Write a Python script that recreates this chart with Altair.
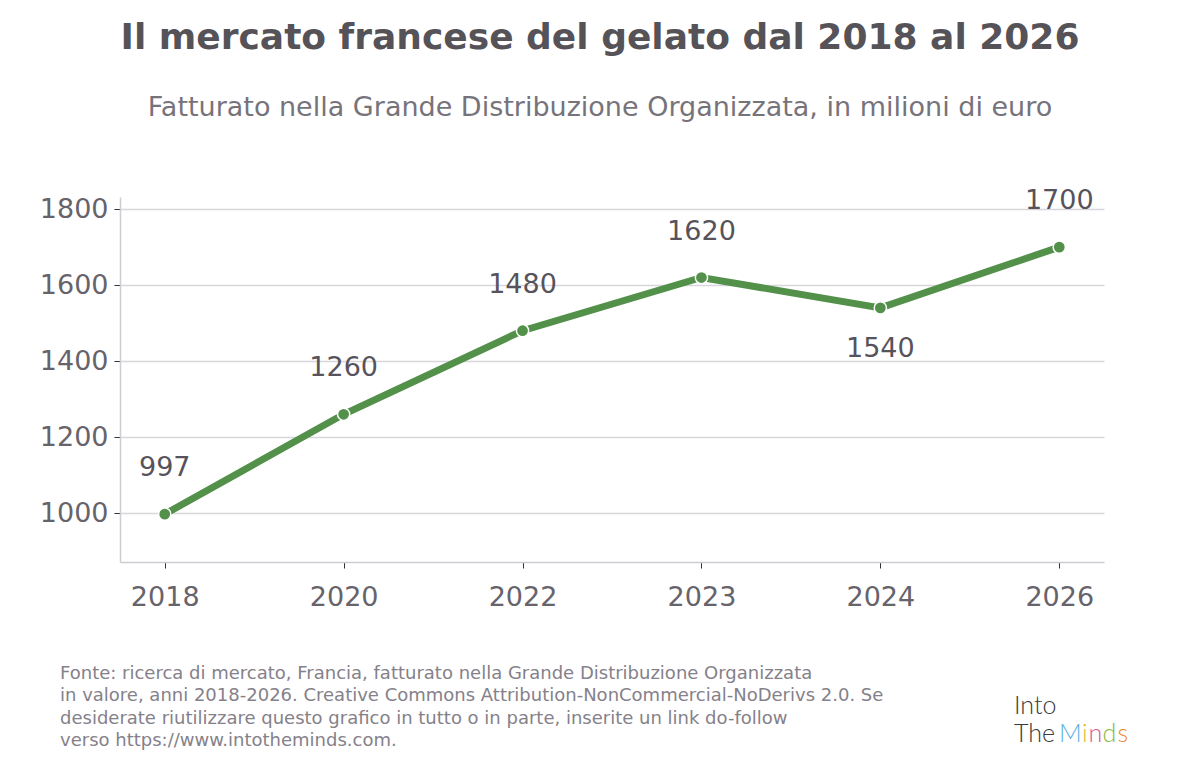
import altair as alt
import pandas as pd

years = ["2018", "2020", "2022", "2023", "2024", "2026"]
values = [997, 1260, 1480, 1620, 1540, 1700]

title_text = "Il mercato francese del gelato dal 2018 al 2026"
subtitle_text = "Fatturato nella Grande Distribuzione Organizzata, in milioni di euro"
footer_lines = [
    "Fonte: ricerca di mercato, Francia, fatturato nella Grande Distribuzione Organizzata",
    "in valore, anni 2018-2026. Creative Commons Attribution-NonCommercial-NoDerivs 2.0. Se",
    "desiderate riutilizzare questo grafico in tutto o in parte, inserite un link do-follow",
    "verso https://www.intotheminds.com.",
]

df = pd.DataFrame({"year": years, "value": values})
prev = df["value"].shift(1)
df["below"] = (df["value"] < prev).fillna(False)

FONT = "DejaVu Sans"
GREEN = "#53914b"

x = alt.X("year:O", sort=years, title=None,
          scale=alt.Scale(type="point", padding=0.25),
          axis=alt.Axis(labelAngle=0, labelFontSize=27, labelColor="#67636b",
                        labelFont=FONT, tickSize=6, tickColor="#333333",
                        tickWidth=1, labelPadding=16, domainColor="#cfcbd3",
                        domainWidth=1.5, grid=False))
y = alt.Y("value:Q", title=None,
          scale=alt.Scale(domain=[871, 1832], nice=False, zero=False),
          axis=alt.Axis(values=[1000, 1200, 1400, 1600, 1800], format="d",
                        labelFontSize=27,
                        labelColor="#67636b", labelFont=FONT, tickSize=6,
                        tickColor="#333333", labelPadding=6,
                        domainColor="#cfcbd3", domainWidth=1.5,
                        grid=True, gridColor="#d8d5dc", gridWidth=1.5))

base = alt.Chart(df)
line = base.mark_line(color=GREEN, strokeWidth=7).encode(x=x, y=y)
pts = base.mark_point(filled=True, color=GREEN, size=150, stroke="white",
                      strokeWidth=1.5, opacity=1).encode(x=x, y=y)
lab_up = base.transform_filter("!datum.below").mark_text(
    fontSize=27, font=FONT, color="#57535b", dy=-46, baseline="middle"
).encode(x=x, y=y, text="value:Q")
lab_dn = base.transform_filter("datum.below").mark_text(
    fontSize=27, font=FONT, color="#57535b", dy=41, baseline="middle"
).encode(x=x, y=y, text="value:Q")

footer_df = pd.DataFrame({"t": ["\n".join(footer_lines)]})
footer = alt.Chart(footer_df).mark_text(
    align="left", baseline="top", fontSize=18, font=FONT, color="#85818a",
    lineBreak="\n", lineHeight=22.3
).encode(x=alt.value(-60), y=alt.value(468), text="t:N")

logo_parts = [
    ("Into", "#3a3a3a", 894, 517),
    ("The", "#3a3a3a", 894, 545),
    ("M", "#5fb0e0", 939, 545),
    ("i", "#e0bc30", 962, 545),
    ("n", "#d6579b", 968.5, 545),
    ("d", "#85bb42", 982.5, 545),
    ("s", "#ee8a33", 997.5, 545),
]
logo_layers = []
for txt, col, px, py in logo_parts:
    logo_layers.append(
        alt.Chart(pd.DataFrame({"t": [txt]})).mark_text(
            align="left", baseline="alphabetic", fontSize=25, font="Lato",
            fontWeight=300, color=col
        ).encode(x=alt.value(px), y=alt.value(py), text="t:N")
    )

chart = alt.layer(line, pts, lab_up, lab_dn, footer, *logo_layers).properties(
    width=984, height=365,
    autosize=alt.AutoSizeParams(type="none"),
    padding={"left": 112, "top": 189, "right": 88, "bottom": 190},
    background="white",
    title=alt.TitleParams(
        text=title_text, subtitle=subtitle_text, anchor="middle", frame="group",
        fontSize=36, font=FONT, fontWeight="bold", color="#555358",
        subtitleFontSize=27, subtitleFont=FONT, subtitleColor="#77737b",
        subtitlePadding=38, offset=65, dx=-12
    ),
).configure_view(stroke=None)

chart.save("out.html", embed_options={"renderer": "svg", "actions": False})
